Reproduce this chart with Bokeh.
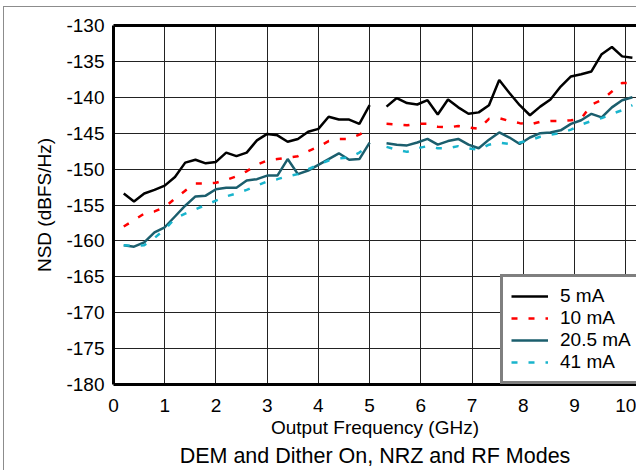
import math
from bokeh.plotting import figure
from bokeh.models import (Legend, LegendItem, LinearAxis, Title, Range1d,
                          FixedTicker, CustomJSTickFormatter)
from bokeh.embed import file_html
from bokeh.resources import INLINE

NAN = float("nan")

# ---- data ----
freq_lo = [0.2, 0.4, 0.6, 0.8, 1.0, 1.2, 1.4, 1.6, 1.8, 2.0, 2.2, 2.4, 2.6,
           2.8, 3.0, 3.2, 3.4, 3.6, 3.8, 4.0, 4.2, 4.4, 4.6, 4.8, 5.0]
freq_hi = [5.33, 5.53, 5.73, 5.93, 6.13, 6.33, 6.53, 6.73, 6.93, 7.13, 7.33,
           7.53, 7.73, 7.93, 8.13, 8.33, 8.53, 8.73, 8.93, 9.13, 9.33, 9.53,
           9.73, 9.93, 10.13]

nsd_5mA_lo = [-153.4, -154.5, -153.4, -152.9, -152.3, -151.1, -149.1, -148.7,
              -149.2, -149.0, -147.7, -148.2, -147.7, -146.0, -145.1, -145.3,
              -146.2, -145.8, -144.8, -144.4, -142.7, -143.1, -143.1, -143.7,
              -141.1]
nsd_5mA_hi = [-141.3, -140.1, -140.8, -141.0, -140.4, -142.4, -140.3, -141.4,
              -142.3, -142.1, -141.1, -137.6, -139.4, -141.1, -142.5, -141.3,
              -140.3, -138.5, -137.1, -136.8, -136.4, -134.0, -133.0, -134.3,
              -134.5]

nsd_10mA_lo = [-158.0, -157.1, -156.2, -155.9, -155.3, -154.1, -153.0, -152.0,
               -152.0, -151.9, -151.5, -151.0, -150.3, -149.4, -148.8, -148.6,
               -148.4, -148.2, -147.5, -146.9, -146.1, -145.8, -145.8, -145.2,
               -144.4]
nsd_10mA_hi = [-143.7, -143.8, -143.9, -143.7, -143.7, -144.1, -144.2, -144.0,
               -144.2, -144.4, -143.0, -142.9, -143.3, -143.6, -143.8, -143.4,
               -143.3, -143.3, -143.2, -143.0, -141.0, -140.4, -139.2, -138.0,
               -138.0]

nsd_20mA_lo = [-160.6, -160.8, -160.2, -158.8, -158.1, -156.6, -155.1, -153.8,
               -153.7, -152.8, -152.6, -152.6, -151.6, -151.4, -150.9, -150.9,
               -148.6, -150.7, -150.2, -149.4, -148.6, -147.8, -148.7, -148.6,
               -146.3]
nsd_20mA_hi = [-146.4, -146.6, -146.7, -146.3, -145.8, -146.6, -146.1, -145.8,
               -146.6, -147.1, -145.9, -144.9, -145.6, -146.5, -145.6, -145.0,
               -144.9, -144.6, -143.7, -143.2, -142.3, -142.8, -141.4, -140.4,
               -140.0]

nsd_41mA_lo = [-160.6, -160.7, -160.6, -159.6, -158.4, -156.9, -156.2, -155.6,
               -155.0, -154.4, -153.8, -153.4, -152.9, -152.3, -151.7, -151.4,
               -151.0, -150.7, -150.0, -149.4, -148.8, -148.5, -148.4, -147.7,
               -146.6]
nsd_41mA_hi = [-146.9, -147.3, -147.6, -147.1, -146.8, -147.1, -147.1, -146.8,
               -147.1, -147.3, -146.6, -146.3, -146.5, -146.3, -146.0, -145.5,
               -145.2, -145.0, -144.5, -143.8, -143.3, -142.9, -142.3, -141.8,
               -141.1]

series_labels = ["5 mA", "10 mA", "20.5 mA", "41 mA"]
x_ticks = [0, 1, 2, 3, 4, 5, 6, 7, 8, 9, 10]
y_ticks = [-180, -175, -170, -165, -160, -155, -150, -145, -140, -135, -130]

x_title = "Output Frequency (GHz)"
y_title = "NSD (dBFS/Hz)"
caption = "DEM and Dither On, NRZ and RF Modes"

FONT = "Liberation Sans"

freq = freq_lo + [NAN] + freq_hi

p = figure(width=632, height=463, output_backend="svg", toolbar_location=None,
           x_range=Range1d(0, 10.21), y_range=Range1d(-180, -130),
           min_border_left=109, min_border_right=0, min_border_top=18,
           min_border_bottom=86,
           styles={"margin-left": "4px", "margin-top": "7px",
                   "outline": "1px solid #8c8c8c"})
p.outline_line_color = None
p.background_fill_color = "white"
p.border_fill_color = "white"

# grid
p.xgrid.ticker = FixedTicker(ticks=x_ticks)
p.ygrid.ticker = FixedTicker(ticks=y_ticks)
for g in (p.xgrid, p.ygrid):
    g.grid_line_color = "#222222"
    g.grid_line_width = 1

fmt = CustomJSTickFormatter(code="return tick.toFixed(0);")

# axes
for ax in (p.xaxis[0], p.yaxis[0]):
    ax.axis_line_width = 3
    ax.axis_line_color = "black"
    ax.major_tick_line_color = None
    ax.minor_tick_line_color = None
    ax.major_tick_out = 0
    ax.major_tick_in = 0
    ax.formatter = fmt
    ax.major_label_text_font = FONT
    ax.major_label_text_font_size = "19px"
    ax.major_label_text_color = "black"
    ax.axis_label_text_font = FONT
    ax.axis_label_text_font_size = "19px"
    ax.axis_label_text_font_style = "normal"
    ax.axis_label_text_color = "black"

p.xaxis[0].ticker = FixedTicker(ticks=x_ticks)
p.yaxis[0].ticker = FixedTicker(ticks=y_ticks)
p.xaxis[0].axis_label = x_title
p.yaxis[0].axis_label = y_title
p.xaxis[0].major_label_standoff = 14
p.xaxis[0].axis_label_standoff = 2
p.yaxis[0].major_label_standoff = 9
p.yaxis[0].axis_label_standoff = 8

top_axis = LinearAxis(ticker=FixedTicker(ticks=[]), axis_line_width=3,
                      axis_line_color="black", major_tick_line_color=None,
                      minor_tick_line_color=None, major_label_text_font_size="0px")
p.add_layout(top_axis, "above")

p.add_layout(Title(text=caption, align="center", text_font=FONT,
                   text_font_size="21.5px", text_font_style="normal",
                   text_color="black", standoff=3), "below")

# series
r1 = p.line(freq, nsd_5mA_lo + [NAN] + nsd_5mA_hi, line_color="black",
            line_width=2.5)
r2 = p.line(freq, nsd_10mA_lo + [NAN] + nsd_10mA_hi, line_color="#ff0000",
            line_width=2.5, line_dash="6 11")
r3 = p.line(freq, nsd_20mA_lo + [NAN] + nsd_20mA_hi, line_color="#1b5e6d",
            line_width=2.5)
r4 = p.line(freq, nsd_41mA_lo + [NAN] + nsd_41mA_hi, line_color="#19b4cc",
            line_width=2.5, line_dash="6 11")

legend = Legend(items=[LegendItem(label=series_labels[0], renderers=[r1]),
                       LegendItem(label=series_labels[1], renderers=[r2]),
                       LegendItem(label=series_labels[2], renderers=[r3]),
                       LegendItem(label=series_labels[3], renderers=[r4])],
                location=(387, 0), border_line_color="black",
                border_line_width=3, background_fill_color="white",
                background_fill_alpha=1.0, padding=8, spacing=-1, margin=0,
                label_height=20, glyph_height=20, glyph_width=37,
                label_standoff=12, label_text_font=FONT,
                label_text_font_size="19px", label_text_color="black")
p.add_layout(legend, "center")

open("out.html", "w").write(file_html(p, INLINE))
